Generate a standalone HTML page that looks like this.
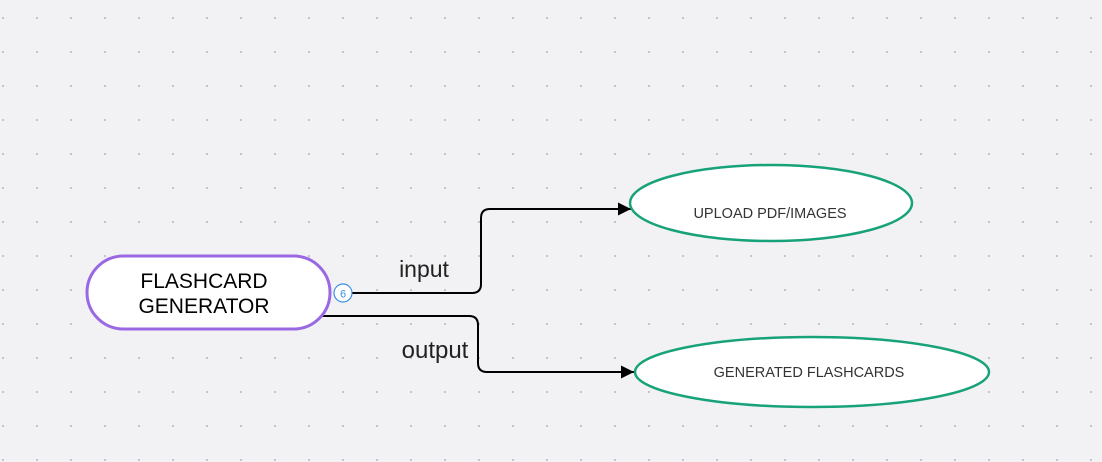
<!DOCTYPE html>
<html><head><style>
html,body{margin:0;padding:0;background:#f2f2f4;}
svg{display:block}
text{font-family:"Liberation Sans",sans-serif;}
</style></head><body>
<svg width="1102" height="462" viewBox="0 0 1102 462" xmlns="http://www.w3.org/2000/svg">
<defs>
<pattern id="d" x="2" y="17" width="34" height="34" patternUnits="userSpaceOnUse">
<rect x="0" y="0" width="2" height="2" fill="#c4c4c8"/>
</pattern>
<marker id="a" markerWidth="14" markerHeight="14" refX="13" refY="6.5" orient="auto" markerUnits="userSpaceOnUse">
<path d="M0,0 L13,6.5 L0,13 Z" fill="#000"/>
</marker>
</defs>
<rect width="1102" height="462" fill="url(#d)"/>
<path d="M351,293 H472 Q481,293 481,284 V218 Q481,209 490,209 H631" fill="none" stroke="#000" stroke-width="2" marker-end="url(#a)"/>
<path d="M322,316 H469 Q478,316 478,325 V363 Q478,372 487,372 H634" fill="none" stroke="#000" stroke-width="2" marker-end="url(#a)"/>
<rect x="87" y="256" width="243" height="73" rx="36.5" fill="#fff" stroke="#9b68e3" stroke-width="3"/>
<text x="204" y="288" font-size="21" text-anchor="middle" fill="#000">FLASHCARD</text>
<text x="204" y="313" font-size="21" text-anchor="middle" fill="#000">GENERATOR</text>
<circle cx="343" cy="293" r="9" fill="#fff" stroke="#3a8ee6" stroke-width="1.2"/>
<text x="343" y="297.5" font-size="11" text-anchor="middle" fill="#3a8ee6">6</text>
<text x="424" y="277" font-size="23" text-anchor="middle" fill="#222">input</text>
<text x="435" y="358" font-size="24" text-anchor="middle" fill="#222">output</text>
<ellipse cx="771" cy="203" rx="141" ry="38" fill="#fff" stroke="#18a27a" stroke-width="2.5"/>
<text x="770" y="218" font-size="14.5" text-anchor="middle" fill="#333">UPLOAD PDF/IMAGES</text>
<ellipse cx="812" cy="372" rx="177" ry="35" fill="#fff" stroke="#18a27a" stroke-width="2.5"/>
<text x="809" y="377" font-size="14.5" text-anchor="middle" fill="#333">GENERATED FLASHCARDS</text>
</svg>
</body></html>
